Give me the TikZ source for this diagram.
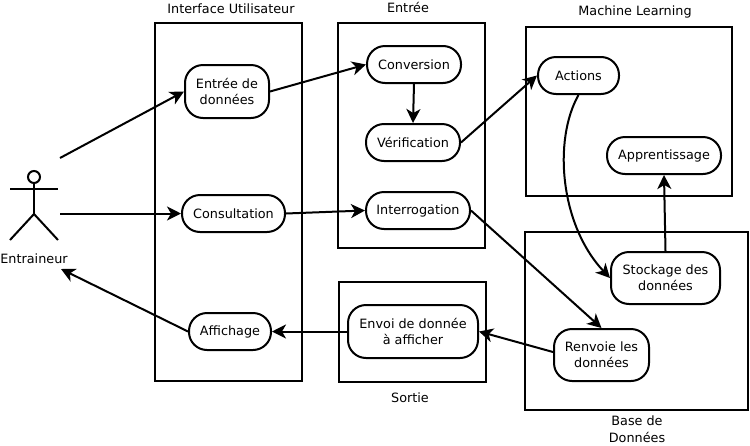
\documentclass[tikz,border=0pt]{standalone}
\usepackage{fontspec}
\setmainfont{DejaVu Sans}
\usetikzlibrary{arrows.meta}
\tikzset{
  frame/.style={draw=black,line width=2pt,fill=none},
  act/.style={draw=black,line width=2pt,fill=white,rounded corners=18pt,align=center,font=\fontsize{12.8}{16}\selectfont,inner sep=0pt},
  lbl/.style={align=center,font=\fontsize{12.8}{16.5}\selectfont,inner sep=0pt},
  conn/.style={draw=black,line width=2pt,-{Stealth[length=14pt,width=14pt,inset=4pt]}},
  stick/.style={draw=black,line width=2pt}
}
\begin{document}
\begin{tikzpicture}[x=1pt,y=-1pt]
\useasboundingbox[fill=white] (0,0) rectangle (750,445);
\draw[frame] (155,23) rectangle (302,381);
\draw[frame] (338,23) rectangle (485,248);
\draw[frame] (526,27) rectangle (732,196);
\draw[frame] (525,232) rectangle (748,410);
\draw[frame] (339,282) rectangle (486,382);
\node[lbl] (t1) at (231,9) {Interface Utilisateur};
\node[lbl] (t2) at (408,7) {Entrée};
\node[lbl] (t3) at (635,12) {Machine Learning};
\node[lbl] (t4) at (410,398) {Sortie};
\node[lbl] (t5) at (637,429) {Base de\\Données};
\node[act,minimum width=84pt,minimum height=53pt] (entree) at (227,91.5) {Entrée de\\données};
\node[act,minimum width=94pt,minimum height=37pt] (conv) at (414,64.5) {Conversion};
\node[act,minimum width=94pt,minimum height=37pt] (verif) at (413,142.5) {Vérification};
\node[act,minimum width=104pt,minimum height=37pt] (interro) at (418,210.5) {Interrogation};
\node[act,minimum width=103pt,minimum height=37pt] (consult) at (233.5,213.5) {Consultation};
\node[act,minimum width=82pt,minimum height=37pt] (affich) at (230,331.5) {Affichage};
\node[act,minimum width=130pt,minimum height=53pt] (envoi) at (413,331.5) {Envoi de donnée\\à afficher};
\node[act,minimum width=81pt,minimum height=37pt] (actions) at (578.5,75.5) {Actions};
\node[act,minimum width=114pt,minimum height=37pt] (appr) at (664,155.5) {Apprentissage};
\node[act,minimum width=109pt,minimum height=52pt] (stock) at (665.5,278) {Stockage des\\données};
\node[act,minimum width=95pt,minimum height=52pt] (renv) at (601.5,355) {Renvoie les\\données};
\node[draw=black,line width=2pt,circle,minimum size=12pt,inner sep=0pt] (head) at (34,177) {};
\coordinate (hip) at (34,214);
\draw[stick] (head.south) -- (hip);
\draw[stick] (10,189) -- (58,189);
\draw[stick] (10,240) -- (hip) -- (58,240);
\node[lbl] (actor) at (34,259) {Entraineur};
\coordinate (a1) at (60,158);
\coordinate (a2) at (60,213.5);
\coordinate (a3) at (61,269);
\draw[conn] (a1) -- (entree.west);
\draw[conn] (a2) -- (consult.west);
\draw[conn] (affich.west) -- (a3);
\draw[conn] (entree.east) -- (conv.west);
\draw[conn] (conv.south) -- (verif.north);
\draw[conn] (consult.east) -- (interro.west);
\draw[conn] (verif.east) -- (actions.west);
\draw[conn] (interro.east) -- (renv.north);
\draw[conn] ([yshift=3pt]renv.west) -- (envoi.east);
\draw[conn] (envoi.west) -- (affich.east);
\draw[conn] (actions.south) .. controls (553,140) and (560,225) .. (stock.west);
\draw[conn] (stock.north) -- (appr.south);
\end{tikzpicture}
\end{document}
